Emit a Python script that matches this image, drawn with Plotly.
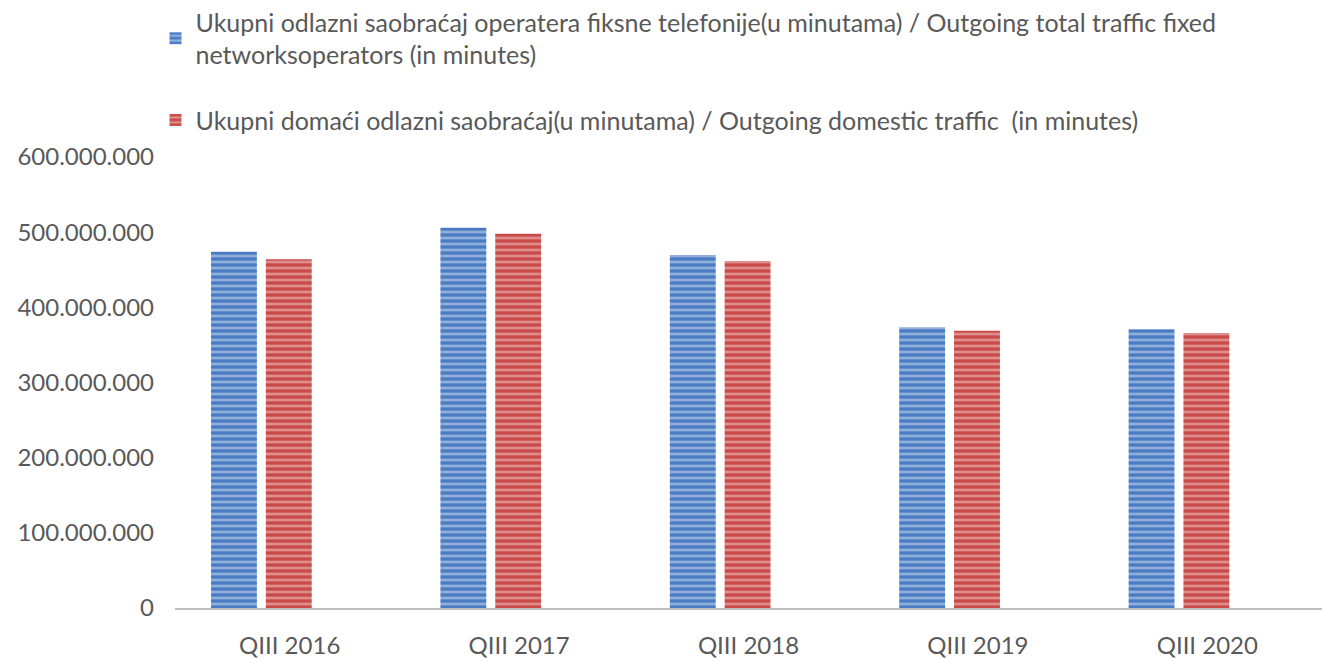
import plotly.graph_objects as go

categories = ["QIII 2016", "QIII 2017", "QIII 2018", "QIII 2019", "QIII 2020"]
total_traffic = [474000000, 506000000, 469500000, 373500000, 371000000]
domestic_traffic = [464000000, 498000000, 461500000, 369000000, 366000000]
series_names = [
    "Ukupni odlazni saobraćaj operatera fiksne telefonije(u minutama) / Outgoing total traffic fixed<br>networksoperators (in minutes)",
    "Ukupni domaći odlazni saobraćaj(u minutama) / Outgoing domestic traffic  (in minutes)",
]
tick_vals = [0, 100000000, 200000000, 300000000, 400000000, 500000000, 600000000]

fig = go.Figure()
fig.add_trace(go.Bar(
    x=categories, y=total_traffic, name=series_names[0], legendgroup="a",
    width=0.2, offset=-0.343,
    marker=dict(color="#4A7CC4", line=dict(width=0),
                pattern=dict(shape="-", fgcolor="#D6E1F2", bgcolor="#4A7CC4", size=6, solidity=0.45,
                             fillmode="overlay")),
))
fig.add_trace(go.Bar(
    x=categories, y=domestic_traffic, name=series_names[1], legendgroup="b",
    width=0.2, offset=-0.104,
    marker=dict(color="#C94A48", line=dict(width=0),
                pattern=dict(shape="-", fgcolor="#F2D2D2", bgcolor="#C94A48", size=6, solidity=0.45,
                             fillmode="overlay")),
))

fig.update_layout(
    width=1322, height=659,
    margin=dict(l=175, r=0, t=157, b=51, autoexpand=False),
    paper_bgcolor="white", plot_bgcolor="white",
    separators=",.",
    font=dict(family="Lato, Calibri, sans-serif", color="#595959", size=24),
    barmode="overlay",
    legend=dict(x=-0.017, y=1.35, xanchor="left", yanchor="top", orientation="v",
                font=dict(size=25, color="#595959"), tracegroupgap=30,
                bgcolor="rgba(0,0,0,0)"),
    showlegend=True,
)
fig.update_yaxes(range=[0, 600000000], tickvals=tick_vals, tickformat=",d",
                 showgrid=False, zeroline=False, showline=False, ticks="",
                 ticklabelstandoff=20, automargin=False,
                 tickfont=dict(size=24, color="#595959"))
fig.update_xaxes(range=[-0.5, 4.5], showline=True, linecolor="#BFBFBF", linewidth=2, ticks="",
                 ticklabelstandoff=15, automargin=False,
                 tickfont=dict(size=24, color="#595959"))

fig.write_html("out.html", config={"displayModeBar": False},
               post_script="document.body.style.margin='0px';document.body.style.overflow='hidden';")
